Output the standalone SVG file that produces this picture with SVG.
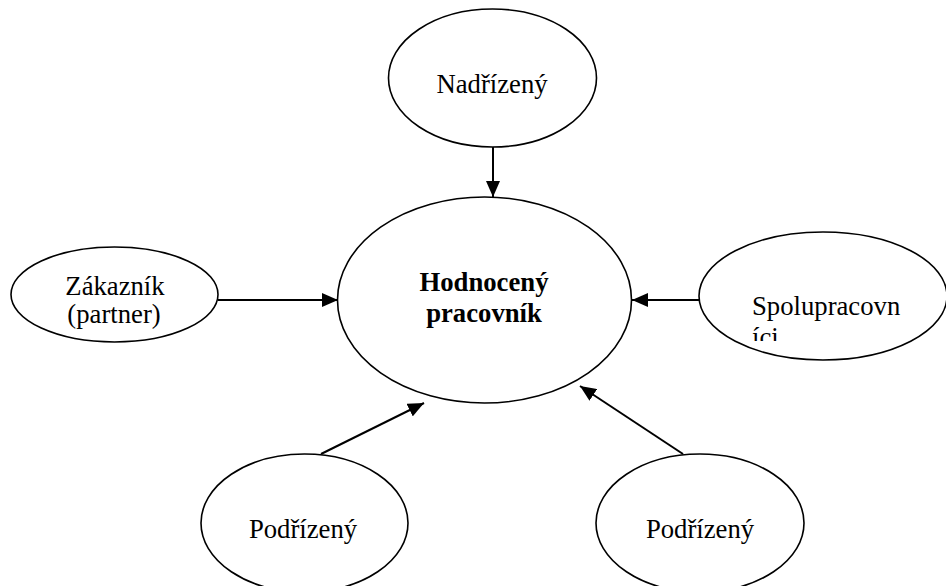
<svg xmlns="http://www.w3.org/2000/svg" width="946" height="586" viewBox="0 0 946 586">
<style>
.node ellipse{fill:#fff;stroke:#000;stroke-width:1.6}
text{font-family:"Liberation Serif","Times New Roman",serif;font-size:26.7px;fill:#000}
.b{font-weight:bold}
.edge{stroke:#000;stroke-width:2;fill:none;marker-end:url(#ah)}
</style>
<defs>
<marker id="ah" viewBox="0 0 16 14" refX="16" refY="7" markerWidth="16" markerHeight="14" markerUnits="userSpaceOnUse" orient="auto">
<path d="M0,0 L16,7 L0,14 Z" fill="#000"/>
</marker>
<clipPath id="clipS"><rect x="690" y="200" width="256" height="141"/></clipPath>
</defs>
<rect width="946" height="586" fill="#fff"/>
<g id="connectors">
<line class="edge" x1="493" y1="147" x2="493" y2="197"/>
<line class="edge" x1="218" y1="300" x2="338" y2="300"/>
<line class="edge" x1="699" y1="300" x2="632" y2="300"/>
<line class="edge" x1="321" y1="454" x2="424" y2="403"/>
<line class="edge" x1="683" y1="454" x2="580" y2="386"/>
</g>
<g id="n-hodnoceny" class="node">
<ellipse cx="484.5" cy="300" rx="147" ry="103"/>
<text class="b" x="484" y="291" text-anchor="middle">Hodnocený</text>
<text class="b" x="484" y="322" text-anchor="middle">pracovník</text>
</g>
<g id="n-nadrizeny" class="node">
<ellipse cx="492.5" cy="78" rx="104" ry="69"/>
<text x="492" y="93" text-anchor="middle">Nadřízený</text>
</g>
<g id="n-zakaznik" class="node">
<ellipse cx="114.5" cy="294.5" rx="103.5" ry="47.5"/>
<text x="115" y="295" text-anchor="middle">Zákazník</text>
<text x="114" y="323" text-anchor="middle">(partner)</text>
</g>
<g id="n-spolupracovnici" class="node">
<ellipse cx="823" cy="296" rx="124" ry="64"/>
<g clip-path="url(#clipS)">
<text x="752" y="315">Spolupracovn</text>
<text x="752" y="346">íci</text>
</g>
</g>
<g id="n-podrizeny1" class="node">
<ellipse cx="304.5" cy="523" rx="103.5" ry="69"/>
<text x="303" y="538" text-anchor="middle">Podřízený</text>
</g>
<g id="n-podrizeny2" class="node">
<ellipse cx="700" cy="523" rx="104" ry="69"/>
<text x="700" y="538" text-anchor="middle">Podřízený</text>
</g>
</svg>
